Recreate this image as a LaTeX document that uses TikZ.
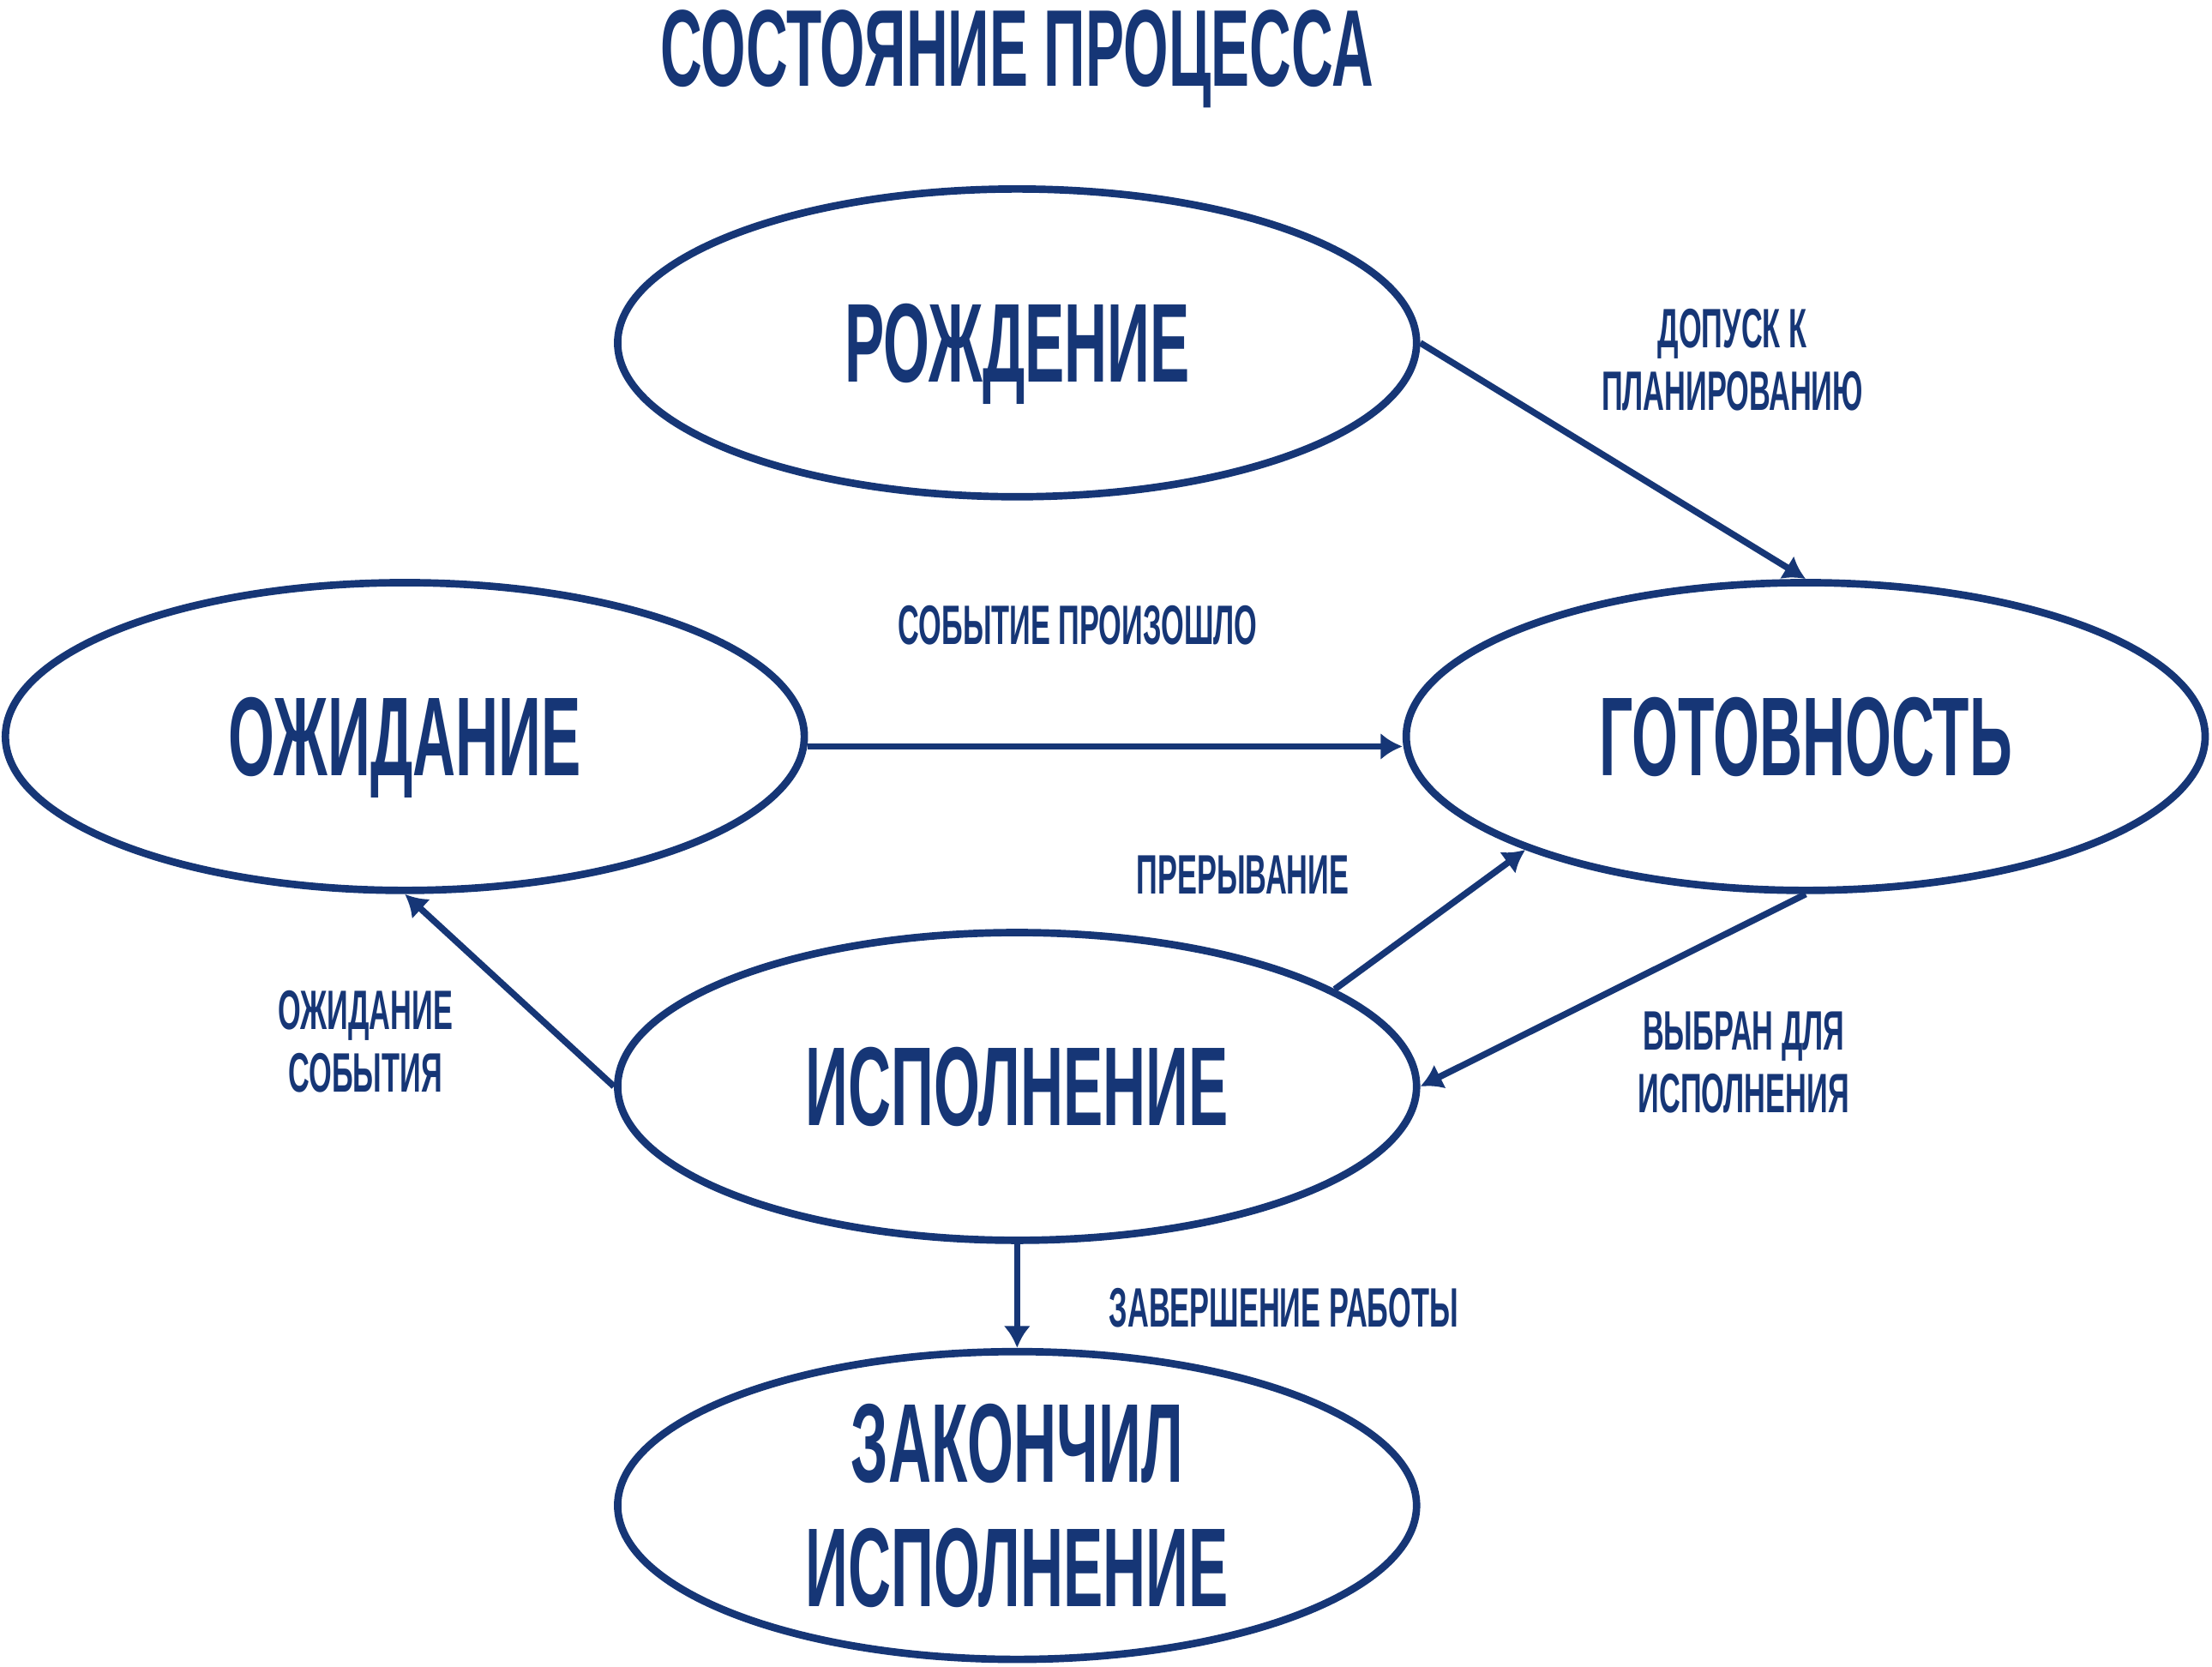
\documentclass[tikz,border=0pt]{standalone}
\usepackage{fontspec}
\setmainfont{Liberation Sans}[FakeStretch=0.53]
\usepackage{tikz}
\usetikzlibrary{shapes.geometric,arrows.meta}
\definecolor{procblue}{RGB}{22,54,118}

\begin{document}
\begin{tikzpicture}[x=0.01cm,y=-0.01cm,
    state/.style={ellipse, draw=procblue, line width=1.5pt, minimum width=5.66cm,
      minimum height=2.18cm, inner sep=0pt, align=center, text=procblue, text depth=0pt,
      font=\bfseries\fontsize{22.6}{25}\selectfont},
    lbl/.style={text=procblue, align=center, inner sep=0pt,
      font=\bfseries\fontsize{11.2}{12.6}\selectfont},
    trans/.style={draw=procblue, line width=1.3pt, -{Latex[length=4.4pt,width=5.4pt]}}]
  \useasboundingbox (0,0) rectangle (1568,1181);

  \node[text=procblue, font=\bfseries\fontsize{22}{24}\selectfont] (title) at (721,42) {СОСТОЯНИЕ ПРОЦЕССА};

  % states
  \node[state] (born)  at (721,243)  {РОЖДЕНИЕ};
  \node[state] (wait)  at (287,522)  {ОЖИДАНИЕ};
  \node[state] (ready) at (1280,522) {ГОТОВНОСТЬ};
  \node[state] (run)   at (721,770)  {ИСПОЛНЕНИЕ};
  \node[state] (done)  at (721,1067) {ЗАКОНЧИЛ\\ИСПОЛНЕНИЕ};

  % transitions
  \draw[trans] (born.east) -- (ready.north);
  \draw[trans] ([yshift=-2pt]wait.east) -- ([yshift=-2pt]ready.west);
  \draw[trans] (run.17.5) -- (ready.202.2);
  \draw[trans] (ready.south) -- (run.east);
  \draw[trans] (run.west) -- (wait.south);
  \draw[trans] (run.south) -- (done.north);

  \node[lbl] (admit)   at (1228,255) {ДОПУСК К\\ПЛАНИРОВАНИЮ};
  \node[lbl] (occur)   at (764,443)  {СОБЫТИЕ ПРОИЗОШЛО};
  \node[lbl] (intr)    at (881,620)  {ПРЕРЫВАНИЕ};
  \node[lbl] (waitev)  at (259,738)  {ОЖИДАНИЕ\\СОБЫТИЯ};
  \node[lbl] (picked)  at (1236,753) {ВЫБРАН ДЛЯ\\ИСПОЛНЕНИЯ};
  \node[lbl] (finish)  at (910,927)  {ЗАВЕРШЕНИЕ РАБОТЫ};
\end{tikzpicture}
\end{document}
